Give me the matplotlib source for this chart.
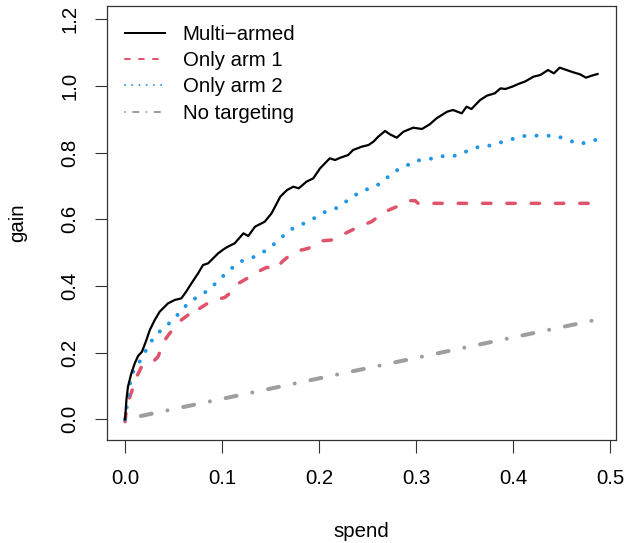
import matplotlib
matplotlib.use("Agg")
import matplotlib.pyplot as plt
from matplotlib.lines import Line2D

plt.rcParams['font.family'] = ['Liberation Sans', 'DejaVu Sans']
plt.rcParams['font.size'] = 14.7

# data
multi_x = [0, 0.0014, 0.003, 0.0065, 0.010, 0.0134, 0.0175, 0.022, 0.0255, 0.0306, 0.0357,
           0.0443, 0.0512, 0.058, 0.063, 0.0684, 0.0753, 0.0804, 0.0856, 0.0925, 0.0959,
           0.103, 0.106, 0.113, 0.122, 0.127, 0.134, 0.144, 0.151, 0.160, 0.167, 0.1735,
           0.179, 0.187, 0.194, 0.201, 0.206, 0.211, 0.2165, 0.222, 0.230, 0.235, 0.244,
           0.251, 0.256, 0.261, 0.268, 0.273, 0.280, 0.287, 0.297, 0.306, 0.314, 0.321,
           0.332, 0.338, 0.347, 0.352, 0.357, 0.366, 0.373, 0.381, 0.387, 0.392, 0.399,
           0.407, 0.412, 0.421, 0.428, 0.436, 0.442, 0.448, 0.455, 0.462, 0.469, 0.475,
           0.481, 0.487]
multi_y = [0, 0.058, 0.098, 0.138, 0.168, 0.19, 0.203, 0.238, 0.268, 0.298, 0.323,
           0.348, 0.358, 0.363, 0.383, 0.408, 0.438, 0.463, 0.468, 0.488, 0.498,
           0.513, 0.518, 0.528, 0.558, 0.550, 0.578, 0.593, 0.618, 0.668, 0.688, 0.698,
           0.693, 0.713, 0.723, 0.753, 0.768, 0.783, 0.778, 0.785, 0.793, 0.808, 0.818,
           0.823, 0.833, 0.848, 0.865, 0.855, 0.845, 0.863, 0.875, 0.871, 0.885, 0.903,
           0.923, 0.928, 0.918, 0.938, 0.931, 0.958, 0.971, 0.978, 0.993, 0.991, 0.998,
           1.008, 1.013, 1.028, 1.033, 1.048, 1.038, 1.055, 1.048, 1.041, 1.035, 1.025,
           1.031, 1.036]

arm1_x = [0, 0.0017, 0.005, 0.0086, 0.012, 0.017, 0.022, 0.029, 0.034, 0.038, 0.041,
          0.046, 0.052, 0.058, 0.065, 0.070, 0.077, 0.084, 0.093, 0.103, 0.112, 0.117,
          0.124, 0.131, 0.137, 0.146, 0.155, 0.162, 0.168, 0.179, 0.189, 0.201, 0.213,
          0.227, 0.241, 0.254, 0.268, 0.284, 0.294, 0.299, 0.302, 0.31, 0.478]
arm1_y = [-0.007, 0.038, 0.068, 0.098, 0.128, 0.158, 0.168, 0.173, 0.188, 0.218, 0.238,
          0.258, 0.278, 0.298, 0.313, 0.308, 0.333, 0.346, 0.358, 0.366, 0.388, 0.408,
          0.420, 0.430, 0.443, 0.456, 0.450, 0.473, 0.488, 0.506, 0.513, 0.535, 0.538,
          0.558, 0.578, 0.593, 0.623, 0.643, 0.656, 0.656, 0.648, 0.648, 0.648]

arm2_x = [0, 0.001, 0.0045, 0.007, 0.0103, 0.0148, 0.0206, 0.0258, 0.033, 0.041, 0.049,
          0.056, 0.066, 0.076, 0.087, 0.0966, 0.107, 0.118, 0.128, 0.138, 0.148, 0.159,
          0.169, 0.181, 0.193, 0.206, 0.218, 0.231, 0.242, 0.255, 0.265, 0.276, 0.288,
          0.299, 0.312, 0.324, 0.334, 0.342, 0.352, 0.364, 0.374, 0.386, 0.398, 0.411,
          0.422, 0.433, 0.445, 0.456, 0.469, 0.484, 0.496]
arm2_y = [0, 0.019, 0.098, 0.136, 0.152, 0.172, 0.202, 0.230, 0.256, 0.278, 0.296,
          0.320, 0.351, 0.370, 0.389, 0.418, 0.446, 0.473, 0.481, 0.494, 0.512, 0.539,
          0.567, 0.583, 0.600, 0.622, 0.634, 0.660, 0.682, 0.696, 0.710, 0.742, 0.757,
          0.776, 0.779, 0.790, 0.788, 0.792, 0.804, 0.817, 0.820, 0.830, 0.840, 0.850,
          0.851, 0.851, 0.850, 0.838, 0.826, 0.838, 0.840]

none_x = [0, 0.488]
none_y = [0, 0.30]

labels = ['Multi\u2212armed', 'Only arm 1', 'Only arm 2', 'No targeting']
colors = ['black', '#DF536B', '#2297E6', '#9E9E9E']
x_ticks = [0.0, 0.1, 0.2, 0.3, 0.4, 0.5]
y_ticks = [0.0, 0.2, 0.4, 0.6, 0.8, 1.0, 1.2]

fig = plt.figure(figsize=(6.27, 5.43), dpi=100)
ax = fig.add_axes([107 / 627, 103 / 543, 509 / 627, 434 / 543])

ax.plot(none_x, none_y, color=colors[3], lw=2.9, dashes=(0.01, 4.0, 2.75, 4.0),
        dash_capstyle='round', solid_capstyle='round')
ax.plot(arm1_x, arm1_y, color=colors[1], lw=2.5, dashes=(2.4, 4.6),
        dash_capstyle='round')
ax.plot(arm2_x, arm2_y, color=colors[2], lw=2.9, dashes=(0.01, 3.0),
        dash_capstyle='round')
ax.plot(multi_x, multi_y, color=colors[0], lw=1.6, solid_joinstyle='round')

ax.set_xlim(-0.0186, 0.506)
ax.set_ylim(-0.062, 1.24)
ax.set_xticks(x_ticks)
ax.set_xticklabels([f'{v:.1f}' for v in x_ticks])
ax.set_yticks(y_ticks)
ax.set_yticklabels([f'{v:.1f}' for v in y_ticks], rotation=90, va='center')
ax.tick_params(direction='out', length=9, width=0.8, color='#333333', pad=12)
ax.tick_params(axis='y', pad=11)
for s in ax.spines.values():
    s.set_linewidth(0.9)
    s.set_color('#333333')

ax.set_xlabel('spend')
ax.xaxis.set_label_coords(0.5, -0.19)
ax.set_ylabel('gain')
ax.yaxis.set_label_coords(-0.157, 0.5)

handles = [
    Line2D([], [], color=colors[0], lw=1.44),
    Line2D([], [], color=colors[1], lw=1.44, dashes=(2.4, 4.6), dash_capstyle='round'),
    Line2D([], [], color=colors[2], lw=1.44, dashes=(0.01, 3.6), dash_capstyle='round'),
    Line2D([], [], color=colors[3], lw=1.44, dashes=(0.01, 4.0, 2.75, 4.0), dash_capstyle='round'),
]
ax.legend(handles, labels, loc='upper left', bbox_to_anchor=(0.0354, 0.957),
          frameon=False, borderaxespad=0, borderpad=0, handlelength=1.95,
          handletextpad=0.88, labelspacing=0.36)

fig.savefig('out.png', dpi=100)
